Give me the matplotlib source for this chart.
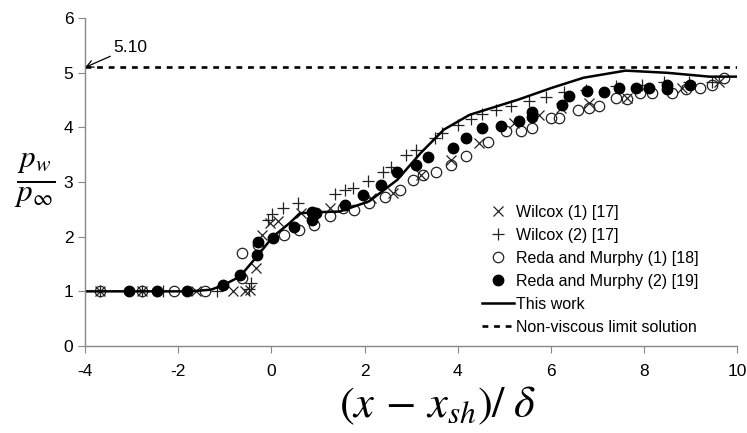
import matplotlib
matplotlib.use('Agg')
import matplotlib.pyplot as plt

# "This work" curve
work_x = [-4, -1.75, -1.3, -1.04, -0.68, -0.32, 0.03, 0.39, 0.61, 1.0, 1.46, 2.1, 2.7, 3.2,
          3.7, 4.25, 5.3, 6.0, 6.7, 7.6, 8.5, 9.4, 10]
work_y = [1.0, 1.0, 1.03, 1.11, 1.27, 1.63, 2.0, 2.25, 2.43, 2.45, 2.46, 2.65, 3.04, 3.53,
          3.96, 4.23, 4.51, 4.72, 4.91, 5.04, 5.0, 4.93, 4.93]

# Wilcox (1) [17]
w1_x = [-3.68, -2.78, -1.62, -0.82, -0.57, -0.46, -0.34, -0.21, -0.04, 0.14, 0.64, 1.25,
        2.14, 2.6, 3.21, 3.85, 4.46, 5.21, 5.75, 6.21, 6.82, 7.64, 8.81, 9.6]
w1_y = [1.0, 1.0, 1.0, 1.0, 1.0, 1.02, 1.43, 2.03, 2.25, 2.28, 2.43, 2.52,
        2.7, 2.8, 3.13, 3.41, 3.71, 4.08, 4.23, 4.36, 4.45, 4.54, 4.72, 4.83]

# Wilcox (2) [17]
w2_x = [-3.68, -2.78, -2.32, -1.18, -0.48, -0.45, -0.07, 0.02, 0.25, 0.57, 1.36, 1.57, 1.75,
        2.07, 2.39, 2.57, 2.89, 3.1, 3.5, 3.67, 4.0, 4.28, 4.53, 4.82, 5.14, 5.52, 5.9,
        6.28, 6.75, 7.39, 7.96, 8.42, 8.96, 9.46]
w2_y = [1.0, 1.0, 1.0, 1.0, 1.05, 1.16, 2.31, 2.42, 2.52, 2.61, 2.79, 2.86, 2.89,
        3.02, 3.19, 3.28, 3.5, 3.59, 3.81, 3.9, 4.04, 4.15, 4.25, 4.32, 4.4, 4.49, 4.56,
        4.64, 4.69, 4.75, 4.78, 4.84, 4.84, 4.84]

# Reda and Murphy (1) [18]
rm1_x = [-3.68, -2.78, -2.1, -1.43, -0.64, -0.63, -0.29, 0.27, 0.59, 0.91, 1.25, 1.53,
         1.78, 2.1, 2.43, 2.75, 3.03, 3.25, 3.53, 3.85, 4.18, 4.64, 5.03, 5.35, 5.6,
         5.99, 6.17, 6.57, 6.82, 7.03, 7.39, 7.64, 7.92, 8.17, 8.6, 8.89, 9.21, 9.46, 9.71]
rm1_y = [1.0, 1.0, 1.0, 1.0, 1.7, 1.25, 1.85, 2.03, 2.12, 2.21, 2.37, 2.52,
         2.49, 2.62, 2.73, 2.86, 3.04, 3.13, 3.19, 3.32, 3.47, 3.74, 3.93, 3.93, 3.99,
         4.17, 4.17, 4.32, 4.36, 4.39, 4.54, 4.52, 4.63, 4.63, 4.63, 4.7, 4.72, 4.78, 4.9]

# Reda and Murphy (2) [19]
rm2_x = [-3.05, -2.45, -1.81, -1.05, -0.68, -0.32, -0.29, 0.03, 0.48, 0.86, 0.88, 0.95,
         1.57, 1.96, 2.36, 2.69, 3.1, 3.35, 3.89, 4.18, 4.53, 4.92, 5.32, 5.6, 5.6,
         6.23, 6.39, 6.78, 7.14, 7.46, 7.82, 8.1, 8.49, 8.49, 8.99]
rm2_y = [1.01, 1.01, 1.0, 1.12, 1.29, 1.66, 1.91, 1.98, 2.18, 2.31, 2.46, 2.43,
         2.58, 2.77, 2.95, 3.19, 3.32, 3.45, 3.62, 3.8, 3.99, 4.03, 4.11, 4.29, 4.19,
         4.42, 4.57, 4.66, 4.64, 4.73, 4.73, 4.73, 4.78, 4.7, 4.78]

limit_value = 5.10

plt.rcParams['font.family'] = ['Liberation Sans', 'DejaVu Sans']
plt.rcParams['mathtext.fontset'] = 'stix'
plt.rcParams['axes.unicode_minus'] = False

fig = plt.figure(figsize=(7.47, 4.33), dpi=100)
ax = fig.add_axes([0.114, 0.201, 0.873, 0.757])

ax.plot(w1_x, w1_y, linestyle='none', marker='x', ms=7.5, mew=0.9, color='#222222',
        label='Wilcox (1) [17]')
ax.plot(w2_x, w2_y, linestyle='none', marker='+', ms=9, mew=0.9, color='#222222',
        label='Wilcox (2) [17]')
ax.plot(rm1_x, rm1_y, linestyle='none', marker='o', ms=7.5, mew=0.9, mfc='none',
        color='#222222', label='Reda and Murphy (1) [18]')
ax.plot(rm2_x, rm2_y, linestyle='none', marker='o', ms=7.5, color='black',
        label='Reda and Murphy (2) [19]')
ax.plot(work_x, work_y, color='black', lw=1.8, label='This work')
ax.axhline(limit_value, color='black', lw=1.9, linestyle=(0, (2.2, 2.2)),
           label='Non-viscous limit solution')

ax.annotate(f'{limit_value:.2f}', xy=(-4, limit_value), xytext=(-3.4, 5.38),
            fontsize=12.5, arrowprops=dict(arrowstyle='->', color='black', lw=0.9,
                                           shrinkA=0, shrinkB=0))

ax.set_xlim(-4, 10)
ax.set_ylim(0, 6)
ax.set_xticks(range(-4, 11, 2))
ax.set_yticks(range(0, 7))
for s in ['top', 'right']:
    ax.spines[s].set_visible(False)
for s in ['left', 'bottom']:
    ax.spines[s].set_color('#888888')
    ax.spines[s].set_linewidth(1.0)
ax.tick_params(colors='#888888', labelcolor='black', labelsize=12.5, length=5, direction='out')
ax.tick_params(axis='x', pad=8)

fig.text(0.047, 0.583, r'$\frac{p_w}{p_\infty}$', fontsize=32, ha='center', va='center')
fig.text(0.585, 0.062, r'$\left(x\, - \,x_{sh}\right)/\;\delta$', fontsize=32, ha='center',
         va='center')

ax.legend(loc='lower right', bbox_to_anchor=(0.958, 0.0), frameon=False, fontsize=11.5,
          handlelength=2.0, handletextpad=0.15, labelspacing=0.5, borderaxespad=0.3)

fig.savefig('out.png', dpi=100)
